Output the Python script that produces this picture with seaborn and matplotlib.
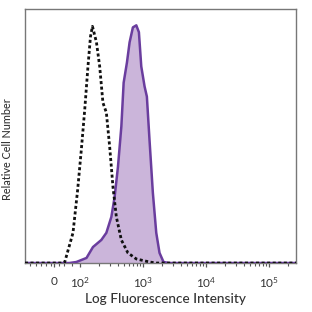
import numpy as np
import pandas as pd
import matplotlib
matplotlib.use("Agg")
import matplotlib.pyplot as plt
import seaborn as sns

# Isotype control (dashed black outline)
iso_x = [-111, 30, 42, 74, 92, 106, 120, 135, 148, 159, 184, 207, 233, 264, 298, 336, 380, 456, 579, 787, 1276, 1645, 2.67e5]
iso_y = [0, 0, 0.3, 11.9, 28.9, 44.7, 60.5, 77.5, 89.3, 93.3, 87.0, 77.5, 63.2, 59.3, 45.8, 30.0, 18.2, 9.1, 4.0, 1.6, 0.4, 0, 0]

# Stained sample (purple filled)
stn_x = [-111, 60, 87, 128, 162, 220, 264, 317, 357, 403, 456, 496, 559, 616, 695, 787, 865, 943, 1064, 1157, 1276, 1439, 1629, 1835, 2123, 2600, 2.67e5]
stn_y = [0, 0, 0.4, 2.0, 6.3, 9.1, 11.9, 18.2, 26.1, 37.9, 53.8, 71.1, 79.0, 87.0, 92.9, 93.7, 91.0, 77.5, 69.6, 65.6, 48.2, 27.7, 11.9, 4.0, 0.4, 0, 0]

tick_vals = [0, 1e2, 1e3, 1e4, 1e5]
tick_labels = ["0", "$10^2$", "$10^3$", "$10^4$", "$10^5$"]

sns.set_style("white")
plt.rcParams['font.family'] = ['Lato', 'DejaVu Sans']
plt.rcParams['mathtext.fontset'] = 'custom'
plt.rcParams['mathtext.rm'] = 'Lato'
plt.rcParams['mathtext.it'] = 'Lato'

fig = plt.figure(figsize=(3.12, 3.12), dpi=100)
ax = fig.add_axes([0.080, 0.157, 0.869, 0.813])

ax.set_xscale('symlog', linthresh=100, linscale=0.37)

df_s = pd.DataFrame({"x": stn_x, "y": stn_y})
df_i = pd.DataFrame({"x": iso_x, "y": iso_y})

ax.fill_between(df_s["x"], df_s["y"], 0, color="#cbb5da", lw=0, zorder=1)
sns.lineplot(data=df_s, x="x", y="y", ax=ax, color="#6a3d9e", lw=1.8, sort=False, zorder=3)
sns.lineplot(data=df_i, x="x", y="y", ax=ax, color="#111111", lw=2.0, sort=False, zorder=4,
             linestyle=(0, (1.1, 0.9)))

ax.set_xlim(-111, 2.67e5)
ax.set_ylim(0, 100)

ax.set_xticks(tick_vals)
ax.set_xticklabels(tick_labels)
minor = [-90, -70, -50, -30, -10, 20, 40, 70]
for d in [100, 1000, 10000, 100000]:
    for m in range(2, 10):
        if d * m < 2.67e5:
            minor.append(d * m)
ax.set_xticks(minor, minor=True)
ax.set_yticks([])
ax.tick_params(axis='x', which='major', direction='out', length=3, width=0.9, color='#555555',
               labelsize=8.5, labelcolor='#333333', pad=6, bottom=True)
ax.tick_params(axis='x', which='minor', direction='out', length=2, width=0.8, color='#555555', bottom=True)

for s in ax.spines.values():
    s.set_color('#777777')
    s.set_linewidth(1.0)
    s.set_visible(True)

ax.set_xlabel("Log Fluorescence Intensity", fontsize=9.8, color='#333333',
              fontweight='medium')
ax.set_ylabel("Relative Cell Number", fontsize=7.8, color='#333333',
              fontweight='medium')
ax.xaxis.set_label_coords(0.52, -0.118)
ax.yaxis.set_label_coords(-0.045, 0.45)

fig.savefig("out.png", dpi=100)
